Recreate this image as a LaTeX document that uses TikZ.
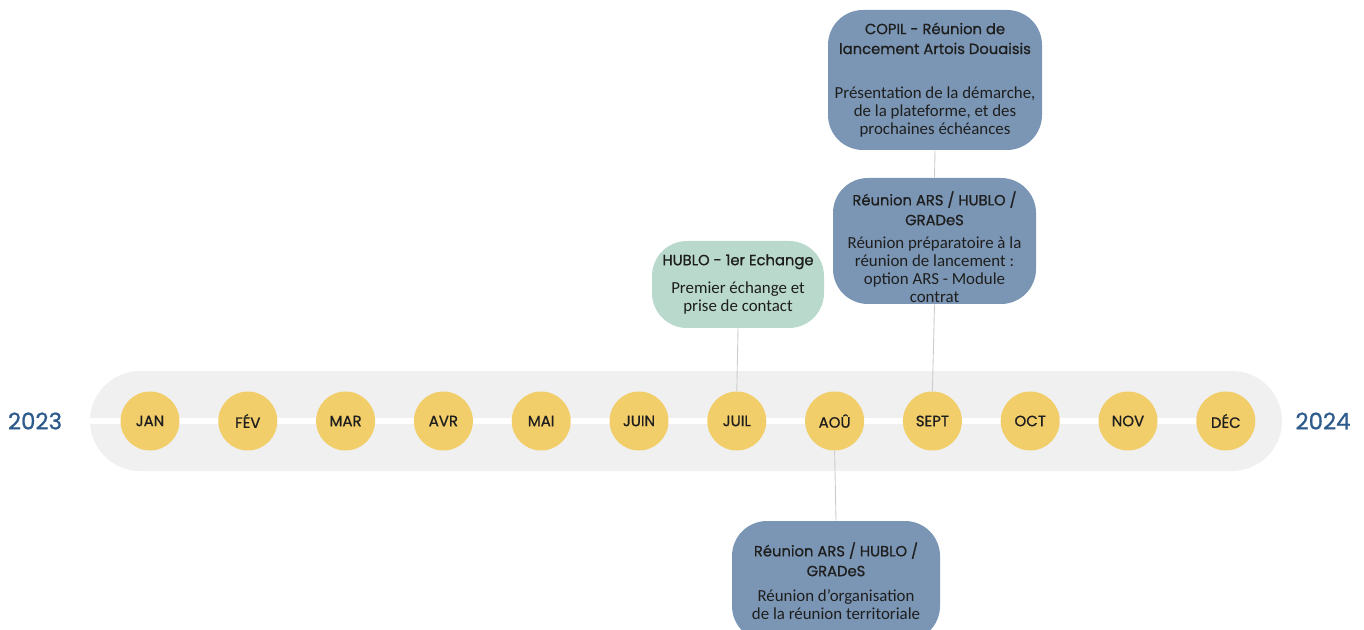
\documentclass[tikz,border=0pt]{standalone}
\usepackage{fontspec}
\setmainfont{Carlito}
\newfontfamily\titlefont{Poppins}[FakeBold=0.9]
\usetikzlibrary{positioning}
\definecolor{tlBand}{HTML}{F0F0F0}
\definecolor{tlYellow}{HTML}{F2CE6A}
\definecolor{tlSlate}{HTML}{7B96B4}
\definecolor{tlMint}{HTML}{B9D9CC}
\definecolor{tlLink}{HTML}{CCCCCC}
\definecolor{tlYear}{HTML}{2D5B8C}
\definecolor{tlInk}{HTML}{1E1E1E}
\newcommand{\evtitle}[1]{{\titlefont\fontsize{8.4}{10.8}\selectfont #1}}

\begin{document}
\begin{tikzpicture}[
    month/.style={
        circle,
        fill=tlYellow,
        minimum size=1.18cm,
        inner sep=0pt,
        text=tlInk,
        font=\titlefont\fontsize{8.5}{10}\selectfont
    },
    event/.style={
        rounded corners=0.7cm,
        fill=tlSlate,
        align=center,
        text=tlInk,
        inner sep=2pt,
        font=\fontsize{9.6}{10.3}\selectfont
    },
    link/.style={draw=tlLink, line width=0.5pt},
    year/.style={text=tlYear, font=\titlefont\fontsize{13}{15}\selectfont}
]
\useasboundingbox (0,0) rectangle (27.28,12.58);

% Timeline band
\fill[tlBand, rounded corners=1cm] (1.8,3.16) rectangle (25.64,5.16);
\draw[white, line width=0.12cm] (1.8,4.16) -- (24.52,4.16);

% Years
\node[year] (y2023) at (0.70,4.16) {2023};
\node[year] (y2024) at (26.46,4.16) {2024};

% Months
\foreach \m [count=\i] in {JAN,FÉV,MAR,AVR,MAI,JUIN,JUIL,AOÛ,SEPT,OCT,NOV,DÉC} {
    \node[month] (m\i) at ({3+(\i-1)*1.956},4.16) {\m};
}

% Events
\node[event, minimum width=4.28cm, minimum height=2.8cm] (copil) at (18.70,10.98)
    {\evtitle{COPIL - Réunion de}\\[1pt]\evtitle{lancement Artois Douaisis}\\[15pt]
     Présentation de la démarche,\\de la plateforme, et des\\prochaines échéances};
\node[event, inner sep=0pt, minimum width=4.06cm, minimum height=2.52cm] (arsprep) at (18.69,7.76)
    {\rule{0pt}{15pt}\evtitle{Réunion ARS / HUBLO /}\\[1pt]\evtitle{GRADeS}\\[3pt]
     Réunion préparatoire à la\\réunion de lancement :\\option ARS - Module\\contrat};
\node[event, fill=tlMint, minimum width=3.44cm, minimum height=1.74cm] (hublo) at (14.76,6.89)
    {\evtitle{HUBLO - 1er Echange}\\[6pt]Premier échange et\\prise de contact};
\node[event, minimum width=4.16cm, minimum height=2.4cm] (arsorga) at (16.72,0.96)
    {\evtitle{Réunion ARS / HUBLO /}\\[1pt]\evtitle{GRADeS}\\[4pt]
     Réunion d’organisation\\de la réunion territoriale};

% Links
\draw[link] (copil.south) -- (arsprep.north);
\draw[link] (arsprep.south) -- (m9.north);
\draw[link] (hublo.south) -- (m7.north);
\draw[link] (m8.south) -- (arsorga.north);

\end{tikzpicture}
\end{document}
